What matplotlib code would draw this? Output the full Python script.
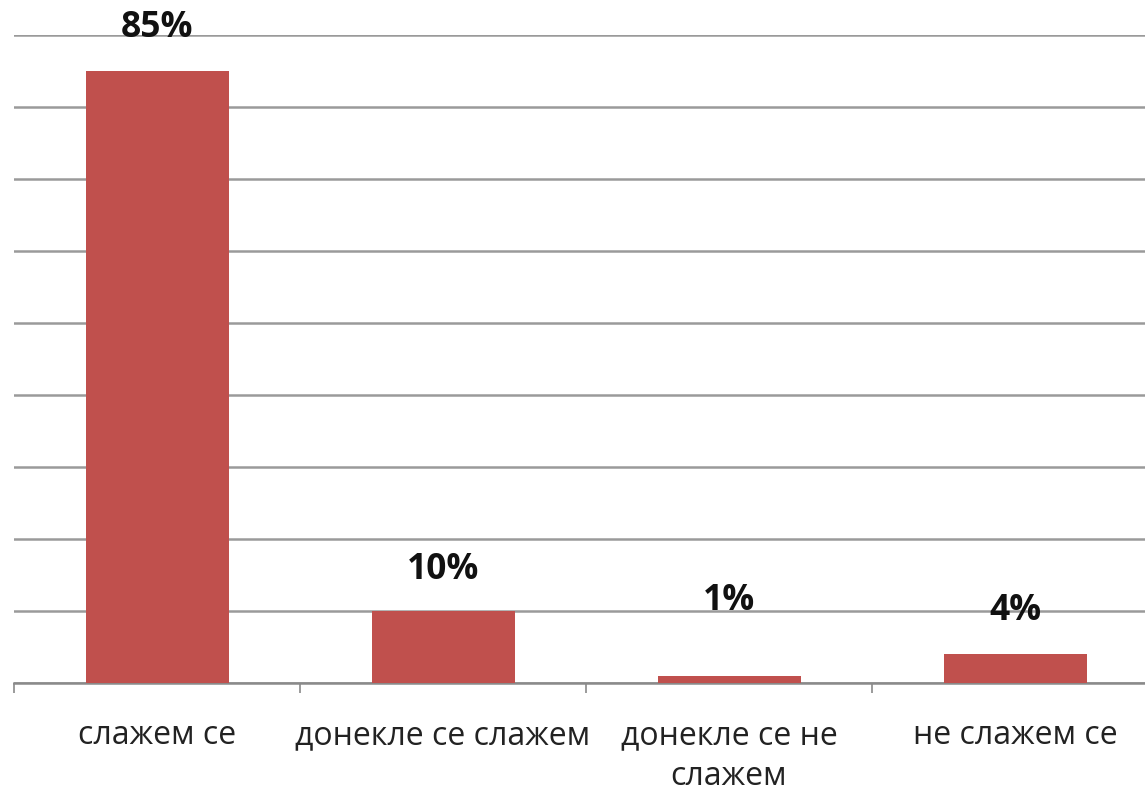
import matplotlib.pyplot as plt
import numpy as np

plt.rcParams['font.family'] = ['Open Sans', 'DejaVu Sans']

# одговори и проценти
kategorije = ["слажем се", "донекле се слажем", "донекле се не\nслажем", "не слажем се"]
procenti = [85, 10, 1, 4]
# ручни помак натписа изнад стубића (у тачкама)
pomak = [31, 29.5, 54, 31]

fig = plt.figure(figsize=(11.45, 7.92), dpi=100)
ax = fig.add_axes([14 / 1145, 109 / 792, 1144 / 1145, 648 / 792])

x = np.arange(len(kategorije))
ax.bar(x, procenti, width=0.5, color="#C0504D", zorder=3)

for xi, p, d in zip(x, procenti, pomak):
    ax.annotate(f"{p}%", (xi, p), xytext=(0, d), textcoords="offset points",
                ha="center", va="center", fontsize=25.5, fontweight="bold",
                color="#111111", annotation_clip=False, zorder=4)

ax.set_xlim(-0.5, 3.5)
ax.set_ylim(0, 90)
ax.set_yticks(np.arange(0, 91, 10))
ax.yaxis.grid(True, color="#9a9a9a", linewidth=1.8, zorder=0)
ax.tick_params(axis="y", length=0, labelleft=False)

ax.set_xticks(x)
ax.set_xticklabels(kategorije, fontsize=23, color="#222222", linespacing=1.3)
ax.set_xticks(np.arange(-0.5, 3.6, 1), minor=True)
ax.tick_params(axis="x", which="major", length=0, pad=26)
ax.tick_params(axis="x", which="minor", length=7.5, width=1.2, color="#8a8a8a")

for s in ["top", "right", "left"]:
    ax.spines[s].set_visible(False)
ax.spines["bottom"].set_color("#8a8a8a")
ax.spines["bottom"].set_linewidth(1.8)

fig.savefig("out.png", dpi=100)
